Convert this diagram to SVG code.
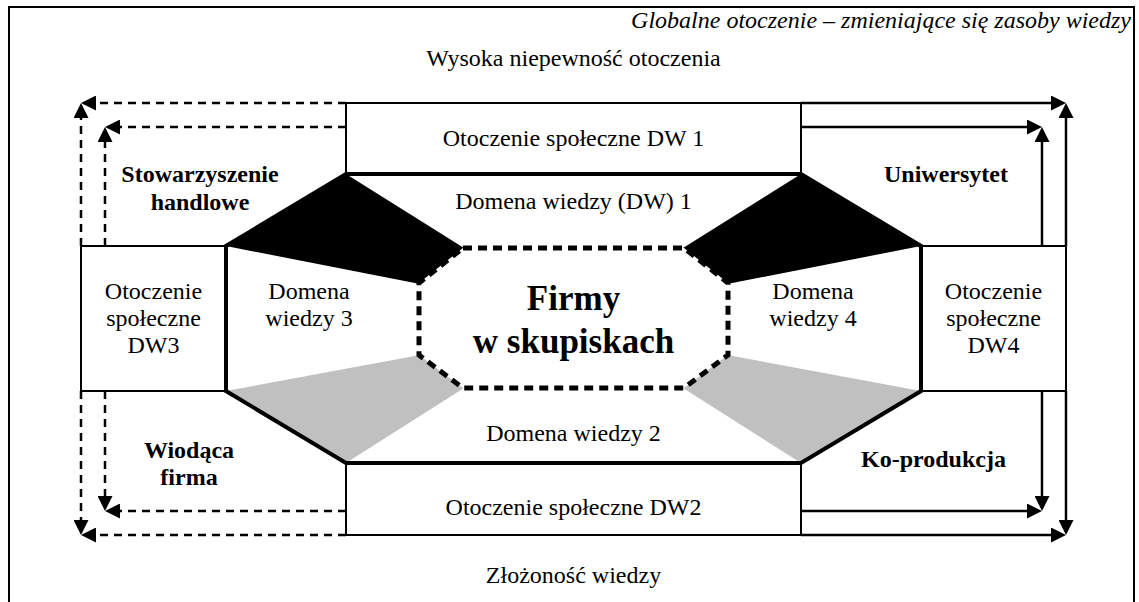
<svg xmlns="http://www.w3.org/2000/svg" width="1139" height="602" viewBox="0 0 1139 602">
<defs>
<marker id="ah" viewBox="0 0 10 10" markerUnits="userSpaceOnUse" markerWidth="15" markerHeight="15" refX="6" refY="5" orient="auto">
<path d="M0,0 L10,5 L0,10 z" fill="#000"/>
</marker>
</defs>
<style>
text{font-family:"Liberation Serif","Times New Roman",serif;font-size:24px;fill:#000;text-anchor:middle}
.b{font-weight:bold}
.big{font-size:35px}
.box{fill:#fff;stroke:#000;stroke-width:2}
.thick{fill:none;stroke:#000;stroke-width:4;stroke-linejoin:miter}
.dash{fill:none;stroke:#000;stroke-width:2.5;stroke-dasharray:8 6;marker-end:url(#ah)}
.solid{fill:none;stroke:#000;stroke-width:2.5;marker-end:url(#ah)}
</style>
<rect width="1139" height="602" fill="#fff"/>
<g id="frame">
<path d="M9,610 V7 H1134 V610" fill="none" stroke="#000" stroke-width="2"/>
<text x="1131" y="28" style="font-style:italic;text-anchor:end">Globalne otoczenie – zmieniające się zasoby wiedzy</text>
<text x="573.5" y="66">Wysoka niepewność otoczenia</text>
<text x="573.5" y="583">Złożoność wiedzy</text>
</g>
<g id="connectors">
<path class="dash" d="M346,103 H87"/>
<path class="dash" d="M81,246 V109"/>
<path class="dash" d="M346,127 H111"/>
<path class="dash" d="M105,246 V133"/>
<path class="dash" d="M105,391 V505"/>
<path class="dash" d="M346,511 H111"/>
<path class="dash" d="M81,391 V529"/>
<path class="dash" d="M346,535 H87"/>
<path class="solid" d="M801,103 H1060"/>
<path class="solid" d="M1066,246 V109"/>
<path class="solid" d="M801,127 H1036"/>
<path class="solid" d="M1042,246 V133"/>
<path class="solid" d="M1042,391 V505"/>
<path class="solid" d="M801,511 H1036"/>
<path class="solid" d="M1066,391 V529"/>
<path class="solid" d="M801,535 H1060"/>
</g>
<g id="os-dw1">
<rect class="box" x="346" y="103" width="455" height="71"/>
<text x="573.5" y="146">Otoczenie społeczne DW 1</text>
</g>
<g id="os-dw2">
<rect class="box" x="346" y="463" width="455" height="72"/>
<text x="573.5" y="515">Otoczenie społeczne DW2</text>
</g>
<g id="os-dw3">
<rect class="box" x="81" y="246" width="145" height="145"/>
<text x="153.5" y="299">Otoczenie</text>
<text x="153.5" y="326">społeczne</text>
<text x="153.5" y="353">DW3</text>
</g>
<g id="os-dw4">
<rect class="box" x="921" y="246" width="145" height="145"/>
<text x="993.5" y="299">Otoczenie</text>
<text x="993.5" y="326">społeczne</text>
<text x="993.5" y="353">DW4</text>
</g>
<g id="domeny">
<polygon points="346,174 801,174 921,246 921,391 801,463 346,463 226,391 226,246" fill="#fff"/>
<polygon points="346,174 464,248 420,284 226,246" fill="#000"/>
<polygon points="801,174 683,248 727,284 921,246" fill="#000"/>
<polygon points="226,391 420,355 464,388 346,463" fill="#c0c0c0"/>
<polygon points="921,391 727,355 683,388 801,463" fill="#c0c0c0"/>
<polygon class="thick" points="346,174 801,174 921,246 921,391 801,463 346,463 226,391 226,246"/>
<text x="573.5" y="209">Domena wiedzy (DW) 1</text>
<text x="573.5" y="441">Domena wiedzy 2</text>
<text x="309" y="299">Domena</text>
<text x="309" y="326">wiedzy 3</text>
<text x="813" y="299">Domena</text>
<text x="813" y="326">wiedzy 4</text>
</g>
<g id="firmy">
<polygon points="463,248 684,248 728,283 728,355 684,388 463,388 419,355 419,283" fill="#fff" stroke="#000" stroke-width="5" stroke-dasharray="9 6"/>
<text class="b big" x="573.5" y="310">Firmy</text>
<text class="b big" x="573.5" y="353">w skupiskach</text>
</g>
<g id="stowarzyszenie">
<text class="b" x="200" y="182">Stowarzyszenie</text>
<text class="b" x="200" y="210">handlowe</text>
</g>
<g id="uniwersytet">
<text class="b" x="946" y="182">Uniwersytet</text>
</g>
<g id="wiodaca">
<text class="b" x="189" y="458">Wiodąca</text>
<text class="b" x="189" y="485">firma</text>
</g>
<g id="koprodukcja">
<text class="b" x="933.5" y="467">Ko-produkcja</text>
</g>
</svg>
